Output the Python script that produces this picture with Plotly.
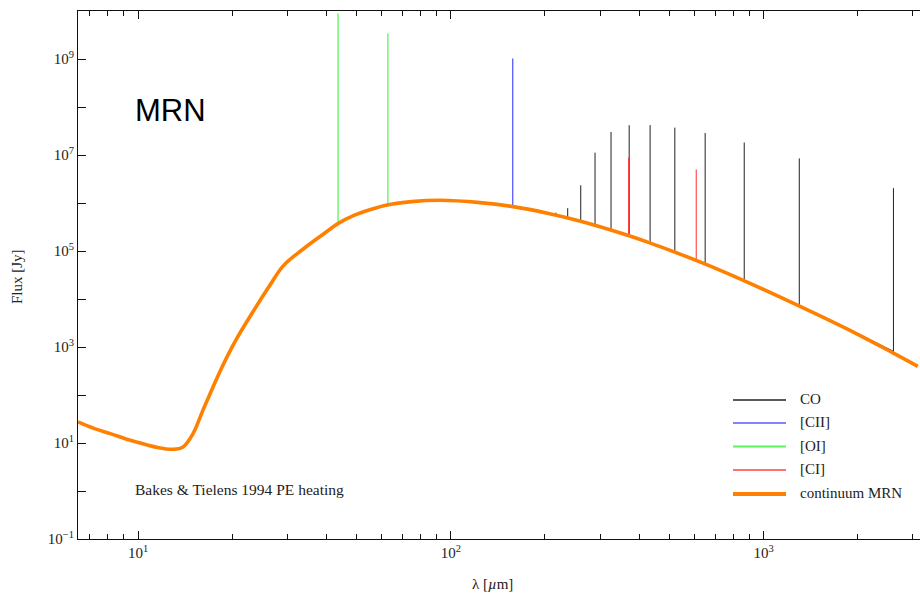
import plotly.graph_objects as go

# ---------------- data ----------------
# continuum MRN: wavelength [um], flux [Jy]
cont_wl = [6.43, 7.19, 8.2, 9.20, 10.1, 11.5, 12.97, 13.93, 15.0, 16.14, 17.38, 18.71,
           20.65, 23.33, 26.42, 29.11, 33.73, 39.08, 43.55, 49.0, 55.08, 62.66, 75.0,
           92.26, 123.9, 156.3, 207.0, 260.0, 346.7, 432.5, 520.0, 648.6, 861.0, 1297,
           1936, 2600, 3112]
cont_flux = [27.5, 20.4, 15.5, 12.0, 10.1, 8.1, 7.4, 8.3, 15.8, 49, 148, 427,
             1480, 5500, 1.95e4, 4.9e4, 1.10e5, 2.24e5, 3.72e5, 5.5e5, 7.24e5, 9.12e5, 1.07e6,
             1.14e6, 1.02e6, 8.5e5, 6.0e5, 4.17e5, 2.40e5, 1.48e5, 9.5e4, 5.4e4, 2.45e4, 7.2e3,
             2.05e3, 745, 395]

# CO rotational lines (J=12 ... 1)
co_wl = [216.7, 236.4, 260.2, 289.1, 325.2, 371.7, 433.6, 520.2, 650.3, 867.0, 1300.4, 2600.8]
co_base = [5.62e5, 4.9e5, 4.17e5, 3.39e5, 2.69e5, 2.09e5, 1.48e5, 9.5e4, 5.37e4, 2.4e4, 7.2e3, 813]
co_peak = [6.3e5, 7.8e5, 2.34e6, 1.12e7, 3.02e7, 4.17e7, 4.2e7, 3.72e7, 2.88e7, 1.82e7, 8.5e6, 2.04e6]
co_tail_wl = [1850]
co_tail_flux = [2.45e3]

# [CII]
cii_wl = [157.7]
cii_base = [8.5e5]
cii_peak = [1.02e9]

# [OI]
oi_wl = [43.6, 62.9]
oi_base = [3.75e5, 9.1e5]
oi_peak = [8.9e9, 3.4e9]

# [CI]
ci_wl = [370.0, 609.0]
ci_base = [2.1e5, 6.3e4]
ci_peak = [8.9e6, 5.0e6]

legend_names = ["CO", "[CII]", "[OI]", "[CI]", "continuum MRN"]
y_tick_vals = [1e-1, 1e1, 1e3, 1e5, 1e7, 1e9]
y_tick_text = ["10<sup>−1</sup>", "10<sup>1</sup>", "10<sup>3</sup>",
               "10<sup>5</sup>", "10<sup>7</sup>", "10<sup>9</sup>"]
y_minor_vals = [1e0, 1e2, 1e4, 1e6, 1e8]
x_tick_vals = [10, 100, 1000]
x_tick_text = ["10<sup>1</sup>", "10<sup>2</sup>", "10<sup>3</sup>"]
x_minor_vals = [7, 8, 9, 20, 30, 40, 50, 60, 70, 80, 90,
                200, 300, 400, 500, 600, 700, 800, 900, 2000, 3000]

# ---------------- styles ----------------
C_CO = "#222222"
C_CII = "#5a5aff"
C_OI = "#5cf55c"
C_CI = "#ff4040"
C_CONT = "#ff8000"
SERIF = "Liberation Serif, Times New Roman, serif"
SANS = "Liberation Sans, Arial, sans-serif"
AX = "#111111"
TXT = "#222222"


def spikes(wl, base, peak):
    xs, ys = [], []
    for w, b, p in zip(wl, base, peak):
        xs += [w, w, None]
        ys += [b, p, None]
    return xs, ys


fig = go.Figure()

x, y = spikes(co_wl, co_base, co_peak)
# faint CO baseline approaching the 1-0 line
x = x[:-3] + [co_tail_wl[0], co_wl[-1], co_wl[-1]]
y = y[:-3] + [co_tail_flux[0], co_base[-1], co_peak[-1]]
fig.add_trace(go.Scatter(x=x, y=y, mode="lines", line=dict(color=C_CO, width=1),
                         name=legend_names[0], connectgaps=False))
x, y = spikes(cii_wl, cii_base, cii_peak)
fig.add_trace(go.Scatter(x=x, y=y, mode="lines", line=dict(color=C_CII, width=1.3),
                         name=legend_names[1]))
x, y = spikes(oi_wl, oi_base, oi_peak)
fig.add_trace(go.Scatter(x=x, y=y, mode="lines", line=dict(color=C_OI, width=1.3),
                         name=legend_names[2]))
x, y = spikes(ci_wl, ci_base, ci_peak)
fig.add_trace(go.Scatter(x=x, y=y, mode="lines", line=dict(color=C_CI, width=1.1),
                         name=legend_names[3]))
fig.add_trace(go.Scatter(x=cont_wl, y=cont_flux, mode="lines",
                         line=dict(color=C_CONT, width=3.6, shape="spline", smoothing=1.0),
                         name=legend_names[4]))
# empty trace that carries the mirrored top axis
fig.add_trace(go.Scatter(x=[None], y=[None], xaxis="x2", yaxis="y", mode="lines",
                         hoverinfo="skip", name=""))

# plot area in pixels: x 78..920, y 11..539
L, R, T, B = 78, 920, 11, 539


def px(xp):
    return (xp - L) / (R - L)


def py(yp):
    return (B - yp) / (B - T)


shapes = []
annotations = []
leg_colors = [C_CO, C_CII, C_OI, C_CI, C_CONT]
leg_widths = [1.3, 1.3, 2, 1.3, 4]
leg_y = [400, 423, 446.5, 470, 494]
for name, col, w, yy in zip(legend_names, leg_colors, leg_widths, leg_y):
    shapes.append(dict(type="line", xref="paper", yref="paper",
                       x0=px(733), x1=px(786), y0=py(yy), y1=py(yy),
                       line=dict(color=col, width=w)))
    annotations.append(dict(xref="paper", yref="paper", x=px(798), y=py(yy - 1),
                            text=name, showarrow=False, xanchor="left", yanchor="middle",
                            font=dict(family=SERIF, size=15, color=TXT)))

annotations.append(dict(xref="paper", yref="paper", x=px(133), y=py(110), text="MRN",
                        showarrow=False, xanchor="left", yanchor="middle",
                        font=dict(family=SANS, size=31, color="#000")))
annotations.append(dict(xref="paper", yref="paper", x=px(133), y=py(489),
                        text="Bakes &amp; Tielens 1994 PE heating",
                        showarrow=False, xanchor="left", yanchor="middle",
                        font=dict(family=SERIF, size=15.5, color=TXT)))
annotations.append(dict(xref="paper", yref="paper", x=px(492), y=py(584),
                        text="λ [<i>µ</i>m]", showarrow=False, xanchor="center",
                        yanchor="middle", font=dict(family=SERIF, size=15, color=TXT)))
annotations.append(dict(xref="paper", yref="paper", x=px(17), y=py(276),
                        text="Flux [Jy]", showarrow=False, textangle=-90,
                        xanchor="center", yanchor="middle",
                        font=dict(family=SERIF, size=15, color=TXT)))

axis_common = dict(type="log", range=[0.808, 3.5], showgrid=False, zeroline=False,
                   showline=True, linecolor=AX, linewidth=1,
                   ticks="inside", ticklen=8, tickcolor=AX, tickwidth=1,
                   tickmode="array", tickvals=x_tick_vals,
                   minor=dict(tickmode="array", tickvals=x_minor_vals, ticks="inside",
                              ticklen=5, tickcolor=AX, tickwidth=1, showgrid=False))

fig.update_layout(
    width=920, height=598,
    margin=dict(l=L, r=920 - R, t=T, b=598 - B, pad=0),
    paper_bgcolor="white", plot_bgcolor="white",
    showlegend=False,
    shapes=shapes, annotations=annotations,
    font=dict(family=SERIF, size=15, color=TXT),
    xaxis=dict(**axis_common, ticktext=x_tick_text,
               tickfont=dict(family=SERIF, size=15, color=TXT)),
    xaxis2=dict(**axis_common, overlaying="x", side="top", matches="x",
                showticklabels=False),
    yaxis=dict(type="log", range=[-1, 10], showgrid=False, zeroline=False,
               showline=True, linecolor=AX, linewidth=1,
               ticks="inside", ticklen=8, tickcolor=AX, tickwidth=1,
               tickmode="array", tickvals=y_tick_vals, ticktext=y_tick_text,
               tickfont=dict(family=SERIF, size=15, color=TXT),
               minor=dict(tickmode="array", tickvals=y_minor_vals, ticks="inside",
                          ticklen=8, tickcolor=AX, tickwidth=1, showgrid=False)),
)

fig.write_html("out.html")
